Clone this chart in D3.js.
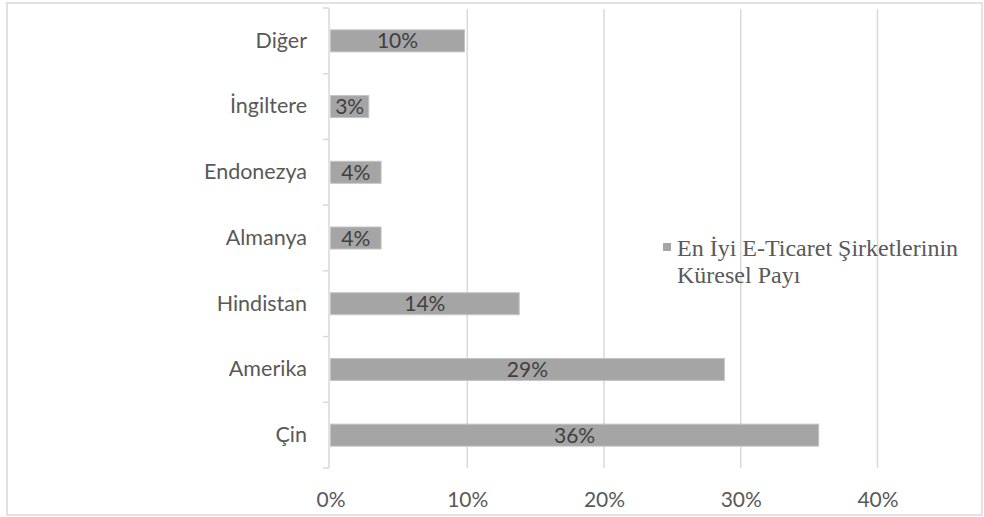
<!DOCTYPE html>
<html>
<head>
<meta charset="utf-8">
<script src="https://cdn.jsdelivr.net/npm/d3@7"></script>
<style>
  body { margin: 0; background: #fff; }
  svg { display: block; }
</style>
</head>
<body>
<script>
var width = 984,
    height = 517;

// data, top to bottom as shown
var countries = ["Diğer", "İngiltere", "Endonezya", "Almanya", "Hindistan", "Amerika", "Çin"]
var shares = [0.098, 0.028, 0.037, 0.037, 0.138, 0.288, 0.357]
var shareLabels = ["10%", "3%", "4%", "4%", "14%", "29%", "36%"]
var xTicks = [0, 0.1, 0.2, 0.3, 0.4]
var legendLines = ["En İyi E-Ticaret Şirketlerinin", "Küresel Payı"]

var plot = {top: 8, bottom: 468, left: 330.5, right: 877.5}
var gridColor = "#d9d9d9",
    barColor = "#a5a5a5",
    textColor = "#595959",
    labelFont = "Lato, 'Open Sans', sans-serif";

var svg = d3.select("body").append("svg")
    .attr("width", width)
    .attr("height", height);

// outer chart border
svg.append("rect")
    .attr("x", 7).attr("y", 3)
    .attr("width", width - 9).attr("height", height - 5)
    .attr("fill", "none")
    .attr("stroke", gridColor)
    .attr("stroke-width", 1.5);

var x = d3.scaleLinear()
    .domain([0, 0.4])
    .range([plot.left, plot.right]);

var y = d3.scaleBand()
    .domain(countries)
    .range([plot.top, plot.bottom])
    .paddingInner(0.665)
    .paddingOuter(0.3325);

// vertical gridlines
svg.append("g")
    .selectAll("line")
    .data(xTicks.slice(1))
    .join("line")
    .attr("x1", d => x(d)).attr("x2", d => x(d))
    .attr("y1", plot.top + 1).attr("y2", plot.bottom)
    .attr("stroke", gridColor)
    .attr("stroke-width", 1.5);

// y axis line + ticks between categories
var axisX = plot.left - 1.5;
svg.append("line")
    .attr("x1", axisX).attr("x2", axisX)
    .attr("y1", plot.top).attr("y2", plot.bottom)
    .attr("stroke", gridColor)
    .attr("stroke-width", 1.5);

var boundaries = d3.range(countries.length + 1).map(i => plot.top + i * y.step());
svg.append("g")
    .selectAll("line")
    .data(boundaries)
    .join("line")
    .attr("x1", axisX - 6).attr("x2", axisX)
    .attr("y1", d => d).attr("y2", d => d)
    .attr("stroke", gridColor)
    .attr("stroke-width", 1.5);

// category labels
var yAxis = svg.append("g")
    .attr("transform", "translate(" + axisX + ",0)")
    .call(d3.axisLeft(y).tickSize(0).tickPadding(22));
yAxis.select(".domain").remove();
yAxis.selectAll("text")
    .attr("fill", textColor)
    .style("font-family", labelFont)
    .style("font-size", "21.5px");

// x tick labels
var xAxis = svg.append("g")
    .attr("transform", "translate(0," + plot.bottom + ")")
    .call(d3.axisBottom(x).tickValues(xTicks).tickFormat(d3.format(".0%")).tickSize(0).tickPadding(24));
xAxis.select(".domain").remove();
xAxis.selectAll("text")
    .attr("fill", textColor)
    .style("font-family", labelFont)
    .style("font-size", "21px");

// bars
svg.append("g")
    .selectAll("rect")
    .data(countries)
    .join("rect")
    .attr("x", x(0))
    .attr("y", d => y(d))
    .attr("width", (d, i) => x(shares[i]) - x(0))
    .attr("height", y.bandwidth())
    .attr("fill", barColor)
    .attr("stroke", "#c4c4c4")
    .attr("stroke-width", 1);

// value labels in bars
svg.append("g")
    .selectAll("text")
    .data(countries)
    .join("text")
    .attr("x", (d, i) => (x(0) + x(shares[i])) / 2)
    .attr("y", d => y(d) + y.bandwidth() / 2)
    .attr("dy", "0.36em")
    .attr("text-anchor", "middle")
    .attr("fill", "#404040")
    .style("font-family", labelFont)
    .style("font-size", "21px")
    .text((d, i) => shareLabels[i]);

// legend
var legend = svg.append("g");
legend.append("rect")
    .attr("x", 663).attr("y", 243)
    .attr("width", 8).attr("height", 8)
    .attr("fill", barColor);
legend.append("text")
    .attr("x", 677)
    .attr("y", 256)
    .attr("fill", textColor)
    .style("font-family", "'Liberation Serif', 'Times New Roman', serif")
    .style("font-size", "24px")
    .selectAll("tspan")
    .data(legendLines)
    .join("tspan")
    .attr("x", 677)
    .attr("dy", (d, i) => i ? 26.5 : 0)
    .text(d => d);
</script>
</body>
</html>
